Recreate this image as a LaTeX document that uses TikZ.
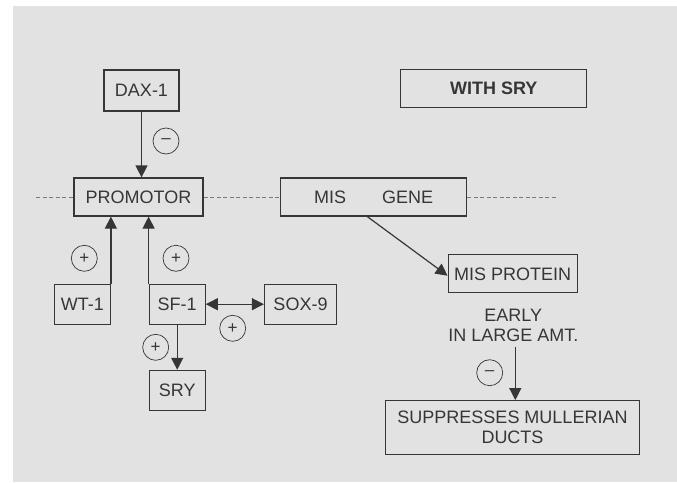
\documentclass[tikz,border=0pt]{standalone}
\usepackage{fontspec}
\setmainfont{Liberation Sans}
\usetikzlibrary{arrows.meta}
\definecolor{bggrey}{HTML}{E2E2E2}
\definecolor{inkgrey}{HTML}{363636}
\definecolor{dashgrey}{HTML}{7A7A7A}
\tikzset{
  genebox/.style={draw=inkgrey, line width=1.2pt, inner sep=0pt, text=inkgrey,
    font=\fontsize{18}{20}\selectfont, text height=12.9pt, text depth=0pt, align=center},
  twoline/.style={text height=, text depth=},
  signcirc/.style={draw=inkgrey, line width=.7pt, circle, minimum size=26pt, inner sep=0pt,
    text=inkgrey, font=\fontsize{17}{17}\selectfont},
  link/.style={draw=inkgrey, line width=1.2pt, -{Triangle[length=12pt,width=12pt]}},
  chrom/.style={draw=dashgrey, line width=.8pt, dash pattern=on 4pt off 2.5pt}
}
\begin{document}
\begin{tikzpicture}[x=1pt,y=-1pt]
    \useasboundingbox (0,0) rectangle (677,482);
    \fill[bggrey] (13,6) rectangle (677,482);
    \node[genebox, minimum width=75pt, minimum height=41pt] (dax) at (141.5,90.5) {DAX-1};
    \node[genebox, minimum width=129pt, minimum height=38pt] (prom) at (138.5,197) {PROMOTOR};
    \node[genebox, minimum width=186pt, minimum height=38pt] (misgene) at (373.7,197) {MIS\hspace{36pt}GENE};
    \node[genebox, minimum width=186pt, minimum height=38pt, font=\fontsize{18}{20}\selectfont\bfseries] (withsry) at (493.7,88.2) {WITH SRY};
    \node[genebox, minimum width=129pt, minimum height=38pt] (misprot) at (512.7,273.7) {MIS PROTEIN};
    \node[genebox, twoline, draw=none] (early) at (513.3,325) {EARLY\\IN LARGE AMT.};
    \node[genebox, twoline, minimum width=254pt, minimum height=54pt] (supp) at (512.5,427.7) {SUPPRESSES MULLERIAN\\DUCTS};
    \node[genebox, minimum width=56pt, minimum height=40pt] (wt) at (82.3,304.2) {WT-1};
    \node[genebox, minimum width=56pt, minimum height=40pt] (sf) at (177.2,304.2) {SF-1};
    \node[genebox, minimum width=72pt, minimum height=40pt] (sox) at (300.5,304.2) {SOX-9};
    \node[genebox, minimum width=56pt, minimum height=40pt] (sry) at (177.2,390.4) {SRY};
    \node[signcirc] (sdax) at (166,141) {–};
    \node[signcirc] (swt) at (84.3,258.3) {+};
    \node[signcirc] (ssf) at (176,258.3) {+};
    \node[signcirc] (ssox) at (232.7,328.3) {+};
    \node[signcirc] (ssry) at (155.7,347.3) {+};
    \node[signcirc] (sprot) at (489.7,372.7) {–};
    \coordinate (lend) at (36,197);
    \coordinate (rend) at (557,197);
    \draw[chrom] (lend) -- (prom.west);
    \draw[chrom] (prom.east) -- (misgene.west);
    \draw[chrom] (misgene.east) -- (rend);
    \draw[link] (dax.south) -- (dax.south |- prom.north);
    \draw[link] (wt.north east) -- (wt.north east |- prom.south);
    \draw[link] (sf.north west) -- (sf.north west |- prom.south);
    \draw[link, {Triangle[length=12pt,width=12pt]}-{Triangle[length=12pt,width=12pt]}] (sf.east) -- (sox.west);
    \draw[link] (sf.south) -- (sry.north);
    \draw[link] ([xshift=-6.4pt]misgene.south) -- ([yshift=-2pt]misprot.west);
    \draw[link] ([xshift=2pt,yshift=-5pt]early.south) -- ([xshift=2pt]early.south |- supp.north);
\end{tikzpicture}
\end{document}
